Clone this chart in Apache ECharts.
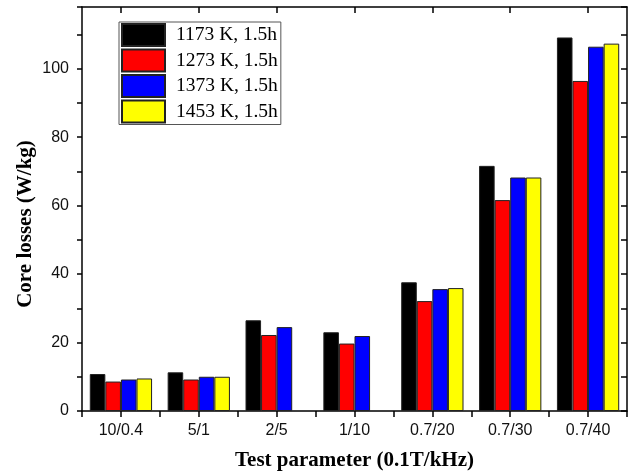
<!DOCTYPE html>
<html>
<head>
<meta charset="utf-8">
<script src="https://cdn.jsdelivr.net/npm/echarts@6/dist/echarts.min.js"></script>
<style>html,body{margin:0;padding:0;background:#fff;}#c{width:630px;height:471px;}</style>
</head>
<body>
<div id="c"></div>
<script>
var categories = ['10/0.4', '5/1', '2/5', '1/10', '0.7/20', '0.7/30', '0.7/40'];
var seriesNames = ['1173 K, 1.5h', '1273 K, 1.5h', '1373 K, 1.5h', '1453 K, 1.5h'];
var s1173 = [10.8, 11.3, 26.5, 23.0, 37.6, 71.6, 109.1];
var s1273 = [8.6, 9.2, 22.2, 19.7, 32.1, 61.6, 96.4];
var s1373 = [9.2, 10.0, 24.5, 21.9, 35.6, 68.2, 106.4];
var s1453 = [9.5, 10.0, null, null, 35.9, 68.2, 107.3];
var colors = ['#000000', '#ff0000', '#0000ff', '#ffff00'];
var yMax = 118;

var chart = echarts.init(document.getElementById('c'), null, {renderer: 'canvas'});
var values = [s1173, s1273, s1373, s1453];
var series = values.map(function (d, i) {
  return {
    name: seriesNames[i],
    type: 'bar',
    data: d,
    xAxisIndex: 0,
    yAxisIndex: 0,
    barGap: '0%',
    barCategoryGap: '20%',
    itemStyle: {color: colors[i], borderColor: '#222', borderWidth: 1}
  };
});
var lineStyle = {color: '#000', width: 1.5};
chart.setOption({
  animation: false,
  backgroundColor: '#fff',
  grid: {left: 82, right: 3, top: 7, bottom: 60, containLabel: false, outerBoundsMode: 'none'},
  legend: {
    orient: 'vertical',
    left: 119, top: 22,
    padding: [1, 3, 1, 2],
    icon: 'rect',
    itemWidth: 43, itemHeight: 22, itemGap: 1.5,
    borderColor: '#555', borderWidth: 1,
    data: seriesNames,
    textStyle: {fontFamily: 'Liberation Serif', fontSize: 19.5, color: '#000', padding: [0, 0, 0, 6]}
  },
  xAxis: [
    {
      type: 'category', data: categories, position: 'bottom',
      name: 'Test parameter (0.1T/kHz)', nameLocation: 'middle', nameGap: 39, nameMoveOverlap: false,
      nameTextStyle: {fontFamily: 'Liberation Serif', fontWeight: 'bold', fontSize: 21, color: '#000'},
      axisLine: {lineStyle: lineStyle},
      axisTick: {show: true, length: 6, inside: false, lineStyle: lineStyle},
      axisLabel: {fontFamily: 'Liberation Sans', fontSize: 16, color: '#111', margin: 12}
    },
    {
      type: 'category', data: categories, position: 'bottom', gridIndex: 0,
      axisLine: {show: false},
      axisTick: {show: true, alignWithLabel: true, length: 6, lineStyle: lineStyle},
      axisLabel: {show: false}
    },
    {
      type: 'category', data: categories, position: 'top', gridIndex: 0,
      axisLine: {show: true, lineStyle: lineStyle},
      axisTick: {show: true, alignWithLabel: true, inside: true, length: 6, lineStyle: lineStyle},
      axisLabel: {show: false}
    }
  ],
  yAxis: [
    {
      type: 'value', min: 0, max: yMax, interval: 10, position: 'left',
      name: 'Core losses (W/kg)', nameLocation: 'middle', nameGap: 46, nameRotate: 90, nameMoveOverlap: false,
      nameTextStyle: {fontFamily: 'Liberation Serif', fontWeight: 'bold', fontSize: 21, color: '#000', padding: [0, 30, 0, 0]},
      axisLine: {show: true, lineStyle: lineStyle},
      axisTick: {show: true, length: 5, lineStyle: lineStyle},
      splitLine: {show: false},
      axisLabel: {
        fontFamily: 'Liberation Sans', fontSize: 16, color: '#111', margin: 13,
        formatter: function (v) { return (v % 20 === 0) ? String(v) : ''; }
      }
    },
    {
      type: 'value', min: 0, max: yMax, interval: 10, position: 'right',
      axisLine: {show: true, lineStyle: lineStyle},
      axisTick: {show: true, inside: true, length: 6, lineStyle: lineStyle},
      splitLine: {show: false},
      axisLabel: {show: false}
    }
  ],
  series: series
});
</script>
</body>
</html>
